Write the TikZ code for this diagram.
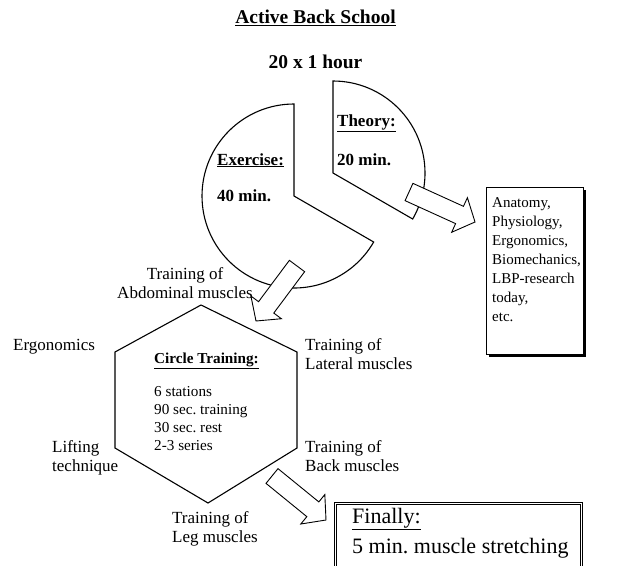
\documentclass[tikz,border=0pt]{standalone}
\usepackage{fontspec}
\setmainfont{Liberation Serif}
\usetikzlibrary{calc,shadows}
\frenchspacing

\tikzset{
  every node/.append style={inner sep=0pt},
  outline/.style={draw=black, line width=1.1pt, line join=miter},
  bigarrow/.style={draw=black, line width=0.9pt, fill=white, line join=miter},
  infobox/.style={draw=black, line width=0.9pt, fill=white,
    drop shadow={shadow xshift=2.5pt, shadow yshift=-2.5pt, fill=black, opacity=1}},
  finalbox/.style={draw=black, line width=0.8pt, double, double distance=1.6pt, fill=white,
    drop shadow={shadow xshift=2pt, shadow yshift=-2pt, fill=black, opacity=1}},
  titletxt/.style={font=\fontsize{19.5}{23}\selectfont\bfseries},
  pietxt/.style={font=\fontsize{17}{20}\selectfont\bfseries},
  lbl/.style={align=left, font=\fontsize{17}{19}\selectfont},
  boxtxt/.style={align=left, font=\fontsize{15}{19}\selectfont},
  hextxt/.style={align=left, font=\fontsize{15.2}{18}\selectfont},
  fintxt/.style={align=left, font=\fontsize{22}{30}\selectfont}
}

% hollow block arrow from #1 to #2
\newcommand{\bigarrow}[2]{%
  \coordinate (ba) at ($(#2)!17pt!(#1)$);
  \draw[bigarrow] ($(#1)!9.5pt!90:(#2)$) -- ($(ba)!9.5pt!90:(#2)$) -- ($(ba)!19pt!90:(#2)$)
    -- (#2) -- ($(ba)!19pt!-90:(#2)$) -- ($(ba)!9.5pt!-90:(#2)$) -- ($(#1)!9.5pt!-90:(#2)$) -- cycle;}

\begin{document}
\begin{tikzpicture}[x=1pt,y=-1pt]
\useasboundingbox (0,0) rectangle (617,565);
\clip (0,0) rectangle (617,565);

\node[titletxt, anchor=base] (title) at (315.5,23.5) {\underline{Active Back School}};
\node[titletxt, anchor=base] (hours) at (315.5,68) {20 x 1 hour};

% pie pieces
\coordinate (exc) at (294,196);
\coordinate (thc) at (333,173);
\draw[outline] (exc) -- ++(-90:92) arc (-90:-330:92) -- cycle;
\draw[outline] (thc) -- ++(-90:92) arc (-90:30:92) -- cycle;

\node[pietxt, anchor=base west] (extitle) at (217,165) {\underline{Exercise:}};
\node[pietxt, anchor=base west] (exmin) at (217,201.5) {40 min.};
\node[pietxt, anchor=base west] (thtitle) at (337,126.5) {\underline{Theory:}};
\node[pietxt, anchor=base west] (thmin) at (337,165) {20 min.};

% topics box
\node[infobox, anchor=north west, minimum width=97, minimum height=167] (topics) at (486,187) {};
\node[boxtxt, anchor=north west] (topicstxt) at (492,197.5)
  {Anatomy,\\Physiology,\\Ergonomics,\\Biomechanics,\\LBP-research\\today,\\etc.};

% circle training
\coordinate (h1) at (201,305);
\coordinate (h2) at (297,352);
\coordinate (h3) at (297,448);
\coordinate (h4) at (208,503);
\coordinate (h5) at (115,448);
\coordinate (h6) at (115,352);
\draw[outline] (h1) -- (h2) -- (h3) -- (h4) -- (h5) -- (h6) -- cycle;
\node[hextxt, anchor=north west] (circle) at (154,352.8)
  {\textbf{\underline{Circle Training:}}\\[15pt]6 stations\\90 sec. training\\30 sec. rest\\2-3 series};

% finally box
\node[finalbox, anchor=north west, minimum width=246, minimum height=100] (finally) at (335,503) {};
\node[fintxt, anchor=north west] (finallytxt) at (352,508)
  {\underline{Finally:}\\5 min. muscle stretching};

% arrows
\coordinate (thout) at (409,192);
\coordinate (topicsin) at (475,222);
\coordinate (exout) at (297,266);
\coordinate (hexin) at (256,321);
\coordinate (hexout) at (272,476);
\coordinate (finin) at (326,520);
\bigarrow{thout}{topicsin}
\bigarrow{exout}{hexin}
\bigarrow{hexout}{finin}

% stations
\node[lbl, align=center, anchor=north] (abdominal) at (185,267.4) {Training of\\Abdominal muscles};
\node[lbl, anchor=base west] (ergonomics) at (13,350) {Ergonomics};
\node[lbl, anchor=north west] (lateral) at (305,338.4) {Training of\\Lateral muscles};
\node[lbl, anchor=north west] (lifting) at (52,440.1) {Lifting\\technique};
\node[lbl, anchor=north west] (back) at (305,440.1) {Training of\\Back muscles};
\node[lbl, anchor=north west] (leg) at (172,511.4) {Training of\\Leg muscles};
\end{tikzpicture}
\end{document}
